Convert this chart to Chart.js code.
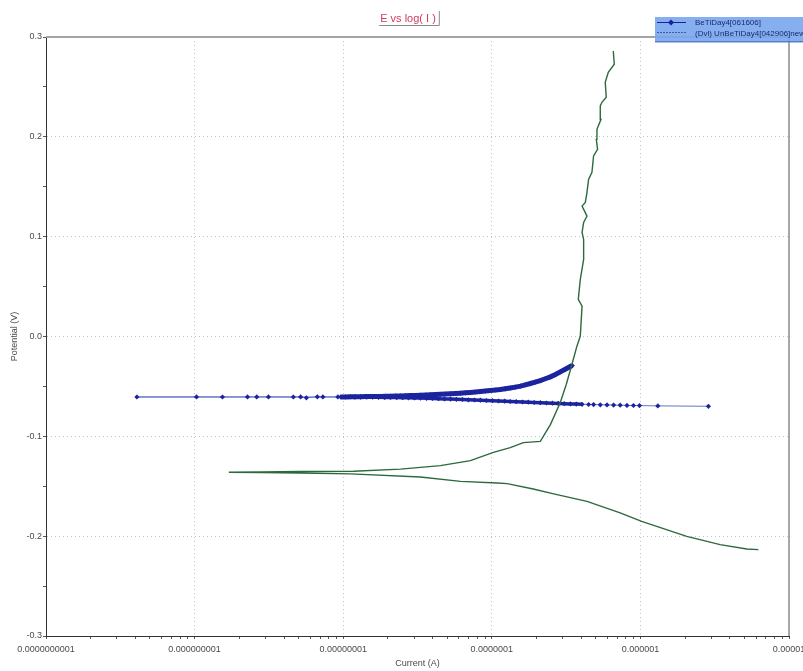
<!DOCTYPE html>
<html>
<head>
<meta charset="utf-8">
<script src="https://cdn.jsdelivr.net/npm/chart.js@4/dist/chart.umd.min.js"></script>
<style>
  html, body { margin: 0; padding: 0; background: #fff; overflow: hidden; }
  #wrap { position: relative; width: 840px; height: 671px; }
</style>
</head>
<body>
<div id="wrap"><canvas id="tafel" width="840" height="671"></canvas></div>
<script>
// Tafel plot: potential vs. log of current for two Ti samples
const chartTitle = 'E vs log( I )';
const seriesNames = ['BeTiDay4[061606]', '(Dvl) UnBeTiDay4[042906]new'];
const xAxisTitle = 'Current (A)';
const yAxisTitle = 'Potential (V)';

// Decade ticks on the current axis and their printed labels
const xDecades = [1e-10, 1e-9, 1e-8, 1e-7, 1e-6, 1e-5];
const xTickLabels = ['0.0000000001', '0.000000001', '0.00000001', '0.0000001', '0.000001', '0.00001'];
const yMin = -0.3, yMax = 0.3, yStep = 0.05;

// BeTiDay4[061606]: cathodic branch (right to left), turning point, anodic branch
const blueCurrent = [
  2.87e-6, 1.31e-6, 9.86e-7, 8.98e-7, 8.12e-7, 7.31e-7, 6.60e-7, 5.96e-7, 5.37e-7, 4.84e-7,
  4.48e-7, 4.05e-7, 3.70e-7, 3.38e-7, 3.07e-7, 2.80e-7, 2.56e-7, 2.33e-7, 2.12e-7, 1.93e-7,
  1.76e-7, 1.61e-7, 1.46e-7, 1.33e-7, 1.22e-7, 1.11e-7, 1.01e-7, 9.20e-8, 8.38e-8, 7.64e-8,
  6.96e-8, 6.35e-8, 5.78e-8, 5.27e-8, 4.80e-8, 4.38e-8, 3.99e-8, 3.64e-8, 3.31e-8, 3.02e-8,
  2.75e-8, 2.51e-8, 2.29e-8, 2.08e-8, 1.90e-8, 1.73e-8, 1.58e-8, 1.44e-8, 1.31e-8, 1.19e-8,
  1.09e-8,
  9.21e-9, 7.30e-9, 6.70e-9, 5.65e-9, 5.17e-9, 4.62e-9, 3.14e-9, 2.62e-9, 2.27e-9, 1.54e-9,
  1.03e-9, 4.09e-10,
  9.61e-9, 1.04e-8, 1.12e-8, 1.21e-8, 1.31e-8, 1.41e-8, 1.53e-8, 1.65e-8, 1.78e-8, 1.93e-8,
  2.08e-8, 2.25e-8, 2.43e-8, 2.63e-8, 2.84e-8, 3.07e-8, 3.31e-8, 3.58e-8, 3.87e-8, 4.18e-8,
  4.51e-8, 4.88e-8, 5.27e-8, 5.69e-8, 6.15e-8, 6.65e-8, 7.18e-8, 7.76e-8, 8.38e-8, 9.06e-8,
  9.79e-8, 1.06e-7, 1.14e-7, 1.23e-7, 1.33e-7, 1.44e-7, 1.56e-7, 1.68e-7, 1.82e-7, 1.96e-7,
  2.12e-7, 2.29e-7, 2.48e-7, 2.68e-7, 2.89e-7, 3.12e-7, 3.37e-7, 3.48e-7
];
const bluePotential = [
  -0.0699, -0.0695, -0.0692, -0.0691, -0.0690, -0.0688, -0.0687, -0.0685, -0.0684, -0.0682,
  -0.0681, -0.0679, -0.0677, -0.0675, -0.0673, -0.0670, -0.0668, -0.0666, -0.0663, -0.0661,
  -0.0658, -0.0656, -0.0653, -0.0651, -0.0648, -0.0646, -0.0643, -0.0641, -0.0638, -0.0636,
  -0.0634, -0.0631, -0.0629, -0.0627, -0.0625, -0.0623, -0.0621, -0.0619, -0.0617, -0.0616,
  -0.0614, -0.0613, -0.0612, -0.0611, -0.0610, -0.0609, -0.0608, -0.0608, -0.0607, -0.0607,
  -0.0606,
  -0.0605, -0.0605, -0.0604, -0.0614, -0.0605, -0.0606, -0.0605, -0.0605, -0.0605, -0.0606,
  -0.0605, -0.0606,
  -0.0606, -0.0605, -0.0604, -0.0604, -0.0603, -0.0602, -0.0602, -0.0601, -0.0600, -0.0599,
  -0.0598, -0.0596, -0.0595, -0.0594, -0.0592, -0.0591, -0.0588, -0.0586, -0.0584, -0.0581,
  -0.0579, -0.0576, -0.0574, -0.0571, -0.0568, -0.0564, -0.0560, -0.0556, -0.0551, -0.0546,
  -0.0541, -0.0536, -0.0531, -0.0524, -0.0516, -0.0507, -0.0497, -0.0485, -0.0471, -0.0457,
  -0.0441, -0.0423, -0.0404, -0.0381, -0.0354, -0.0328, -0.0301, -0.0291
];

// UnBeTiDay4[042906]: cathodic branch (right to left), turning point, anodic branch upward
const greenCurrent = [
  6.22e-6, 5.20e-6, 3.44e-6, 2.05e-6, 1.02e-6, 7.31e-7, 4.37e-7, 2.61e-7, 1.90e-7, 1.27e-7,
  1.085e-7, 6.15e-8, 3.31e-8, 1.12e-8, 5.17e-9, 2.79e-9, 1.70e-9,
  2.79e-9, 5.17e-9, 1.175e-8, 2.43e-8, 4.51e-8, 7.18e-8, 1.025e-7, 1.33e-7, 1.63e-7,
  2.12e-7, 2.48e-7, 2.89e-7, 3.17e-7, 3.46e-7, 3.74e-7, 3.94e-7, 4.05e-7, 3.82e-7, 3.94e-7,
  4.15e-7, 4.15e-7, 4.05e-7, 4.15e-7, 4.37e-7, 4.05e-7, 4.26e-7, 4.37e-7, 4.48e-7, 4.72e-7,
  4.84e-7, 5.15e-7, 5.05e-7, 5.10e-7, 5.43e-7, 5.37e-7, 5.51e-7, 5.89e-7, 5.80e-7, 6.08e-7,
  6.67e-7, 6.57e-7
];
const greenPotential = [
  -0.2135, -0.2128, -0.2085, -0.2002, -0.1852, -0.1767, -0.1651, -0.1577, -0.1527, -0.1474,
  -0.1467, -0.1451, -0.1407, -0.1376, -0.1368, -0.1363, -0.1360,
  -0.1358, -0.1353, -0.1350, -0.1328, -0.1293, -0.1243, -0.1160, -0.1113, -0.1063,
  -0.1050, -0.0882, -0.0662, -0.0481, -0.0281, -0.0097, 0.0003, 0.0304, 0.0371, 0.0571,
  0.0772, 0.0972, 0.1043, 0.1143, 0.1206, 0.1306, 0.1343, 0.1444, 0.1574, 0.1644,
  0.1808, 0.1875, 0.1975, 0.2075, 0.2175, 0.2309, 0.2346, 0.2396, 0.2546, 0.2647,
  0.2727, 0.2860
];

const toPoints = (xs, ys) => xs.map((x, i) => ({ x: x, y: ys[i] }));

// tick positions for the log axis: 1..9 within each decade
const xTickValues = [];
for (let d = 0; d < xDecades.length - 1; d++) {
  for (let m = 1; m <= 9; m++) xTickValues.push(m * xDecades[d]);
}
xTickValues.push(xDecades[xDecades.length - 1]);

const isDecade = v => Math.abs(Math.log10(v) - Math.round(Math.log10(v))) < 1e-6;
const isTenth = v => Math.abs(Math.round(v * 100)) % 10 === 0;

// where the recorded points crowd together the markers merge into a solid band
const blueCathodicDense = [11, 50];
const blueAnodicStart = 63;
const blueBand = ctx => {
  const i = ctx.p0DataIndex;
  if (i >= blueAnodicStart) return 5;
  if (i >= blueCathodicDense[0] && i < blueCathodicDense[1]) return 3.5;
  return 1;
};

const FONT = "'Liberation Sans', Arial, sans-serif";

// frame, title and legend panel
const decor = {
  id: 'decor',
  beforeDatasetsDraw(chart) {
    const { ctx, chartArea: a } = chart;
    ctx.save();
    ctx.strokeStyle = '#a4a4a4';
    ctx.lineWidth = 2;
    ctx.beginPath();
    ctx.moveTo(a.left, a.top);
    ctx.lineTo(a.right, a.top);
    ctx.stroke();
    ctx.strokeStyle = '#8c8c8c';
    ctx.lineWidth = 1.5;
    ctx.beginPath();
    ctx.moveTo(a.right, a.top);
    ctx.lineTo(a.right, a.bottom);
    ctx.stroke();
    ctx.restore();
  },
  afterDraw(chart) {
    const { ctx } = chart;
    ctx.save();
    // title
    ctx.font = '11px ' + FONT;
    ctx.fillStyle = '#d23a62';
    ctx.textAlign = 'center';
    ctx.textBaseline = 'middle';
    ctx.fillText(chartTitle, 408, 18.5);
    const tw = ctx.measureText(chartTitle).width;
    ctx.strokeStyle = '#8a8a8a';
    ctx.lineWidth = 1;
    ctx.beginPath();
    ctx.moveTo(408 - tw / 2 - 1, 25.5);
    ctx.lineTo(408 + tw / 2 + 3.5, 25.5);
    ctx.lineTo(408 + tw / 2 + 3.5, 11);
    ctx.stroke();

    // legend panel
    const lx = 655, ly = 17;
    ctx.fillStyle = 'rgba(120, 166, 238, 0.9)';
    ctx.fillRect(lx, ly, 200, 25);
    ctx.fillStyle = 'rgba(70, 110, 190, 0.8)';
    ctx.fillRect(lx, ly + 24, 200, 1.5);
    const ds = chart.data.datasets;
    // row 1: line with diamond marker
    ctx.strokeStyle = '#1a2290';
    ctx.lineWidth = 1;
    ctx.beginPath();
    ctx.moveTo(lx + 2, 22.5);
    ctx.lineTo(lx + 31, 22.5);
    ctx.stroke();
    ctx.fillStyle = '#1a22a0';
    ctx.beginPath();
    ctx.moveTo(lx + 16, 19.5);
    ctx.lineTo(lx + 19, 22.5);
    ctx.lineTo(lx + 16, 25.5);
    ctx.lineTo(lx + 13, 22.5);
    ctx.closePath();
    ctx.fill();
    // row 2: dotted sample line
    ctx.strokeStyle = '#4a5a8a';
    ctx.setLineDash([2, 1]);
    ctx.beginPath();
    ctx.moveTo(lx + 2, 32.5);
    ctx.lineTo(lx + 31, 32.5);
    ctx.stroke();
    ctx.setLineDash([]);
    ctx.font = '8px ' + FONT;
    ctx.textAlign = 'left';
    ctx.textBaseline = 'middle';
    ctx.fillStyle = '#1c2a70';
    ctx.fillText(ds[0].label, lx + 40, 23);
    ctx.fillText(ds[1].label, lx + 40, 33.5);
    ctx.restore();
  }
};

new Chart(document.getElementById('tafel'), {
  type: 'scatter',
  data: {
    datasets: [
      {
        label: seriesNames[0],
        data: toPoints(blueCurrent, bluePotential),
        showLine: true,
        borderColor: '#6474c4',
        borderWidth: 1,
        segment: {
          borderWidth: blueBand,
          borderColor: ctx => (blueBand(ctx) > 1 ? '#1d25a0' : '#6474c4')
        },
        pointStyle: 'rectRot',
        pointRadius: 2.6,
        pointBorderWidth: 0,
        pointBackgroundColor: '#1b239e',
        pointBorderColor: '#1b239e',
        order: 1
      },
      {
        label: seriesNames[1],
        data: toPoints(greenCurrent, greenPotential),
        showLine: true,
        borderColor: '#2c6a3c',
        borderWidth: 1.4,
        pointRadius: 0,
        tension: 0,
        order: 0
      }
    ]
  },
  options: {
    responsive: false,
    devicePixelRatio: 1,
    animation: false,
    layout: { padding: { left: 0, top: 37, right: 51, bottom: 0 } },
    plugins: {
      legend: { display: false },
      title: { display: false },
      tooltip: { enabled: false }
    },
    scales: {
      x: {
        type: 'logarithmic',
        min: xDecades[0],
        max: xDecades[xDecades.length - 1],
        afterBuildTicks(scale) {
          scale.ticks = xTickValues.map(v => ({ value: v, major: isDecade(v) }));
        },
        afterFit(scale) { scale.height = 35; },
        ticks: {
          autoSkip: false,
          maxRotation: 0,
          minRotation: 0,
          padding: 5,
          color: '#4a4a4a',
          font: { family: FONT, size: 9 },
          callback(value) {
            if (!isDecade(value)) return '';
            return xTickLabels[Math.round(Math.log10(value)) + 10];
          }
        },
        grid: {
          color: ctx => (ctx.tick && isDecade(ctx.tick.value) ? '#c2c2c2' : 'rgba(0,0,0,0)'),
          tickColor: '#555',
          tickLength: 3,
          lineWidth: 1
        },
        border: { display: true, color: '#333', width: 1, dash: [1, 3] },
        title: {
          display: true,
          text: xAxisTitle,
          color: '#4a4a4a',
          font: { family: FONT, size: 9 },
          padding: { top: 0, bottom: 2 }
        }
      },
      y: {
        type: 'linear',
        min: yMin,
        max: yMax,
        afterFit(scale) { scale.width = 46; },
        ticks: {
          stepSize: yStep,
          autoSkip: false,
          padding: 1,
          color: '#4a4a4a',
          font: { family: FONT, size: 9 },
          callback(value) {
            if (!isTenth(value)) return '';
            return (Math.round(value * 10) / 10).toFixed(1);
          }
        },
        grid: {
          color: ctx => (ctx.tick && isTenth(ctx.tick.value) ? '#c2c2c2' : 'rgba(0,0,0,0)'),
          tickColor: '#555',
          tickLength: 3,
          lineWidth: 1
        },
        border: { display: true, color: '#333', width: 1, dash: [1, 3] },
        title: {
          display: true,
          text: yAxisTitle,
          color: '#4a4a4a',
          font: { family: FONT, size: 9 },
          padding: { top: 9, bottom: 0 }
        }
      }
    }
  },
  plugins: [decor]
});
</script>
</body>
</html>
